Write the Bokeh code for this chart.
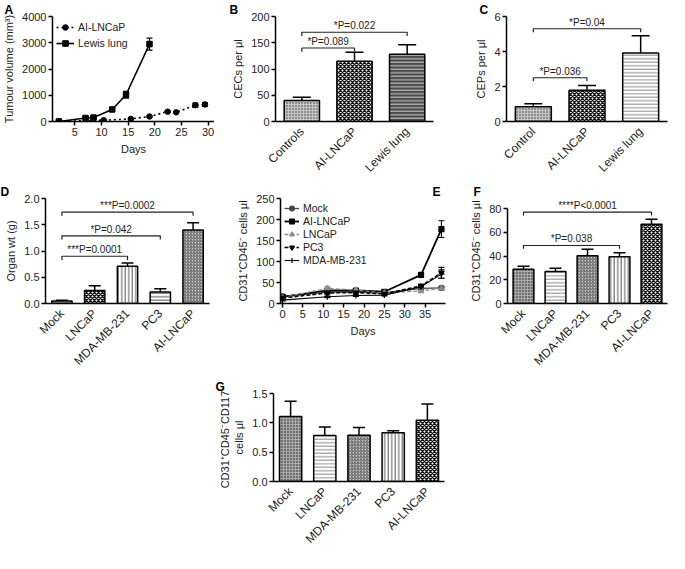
import math
import numpy as np
from bokeh.plotting import figure
from bokeh.models import (Range1d, FixedTicker, Legend, LegendItem, Label,
                          ColumnDataSource, Whisker, TeeHead, Spacer,
                          NumeralTickFormatter)
from bokeh.layouts import row, column
from bokeh.embed import file_html
from bokeh.resources import INLINE

FONT = "Liberation Sans"

# ---------------- data ----------------
# A: tumour volume (mm3)
a_ai_days = [2, 10.4, 15.5, 19, 22.4, 24, 27.6, 29.4]
a_ai_vol = [0, 50, 100, 190, 375, 350, 620, 650]
a_ai_err = [0, 10, 15, 20, 25, 25, 80, 70]
a_ll_days = [2, 7, 8.5, 12, 14.6, 19]
a_ll_vol = [0, 135, 150, 460, 1020, 2950]
a_ll_err = [0, 40, 40, 40, 130, 230]
a_xticks = [5, 10, 15, 20, 25, 30]
a_yticks = [0, 1000, 2000, 3000, 4000]

# B: CECs per ul
b_cats = ["Controls", "AI-LNCaP", "Lewis lung"]
b_vals = [40, 115, 128]
b_errs = [6, 17, 18]
b_yticks = [0, 50, 100, 150, 200]
b_brackets = [(0, 1, 140, "*P=0.089"), (0, 2, 170, "*P=0.022")]

# C: CEPs per ul
c_cats = ["Control", "AI-LNCaP", "Lewis lung"]
c_vals = [0.85, 1.78, 3.92]
c_errs = [0.17, 0.28, 0.98]
c_yticks = [0, 2, 4, 6]
c_brackets = [(0, 1, 2.5, "*P=0.036"), (0, 2, 5.3, "*P=0.04")]

# D: organ weight
d_cats = ["Mock", "LNCaP", "MDA-MB-231", "PC3", "AI-LNCaP"]
d_vals = [0.05, 0.25, 0.71, 0.22, 1.40]
d_errs = [0.01, 0.09, 0.06, 0.06, 0.14]
d_yticks = [0.0, 0.5, 1.0, 1.5, 2.0]
d_brackets = [(0, 2, 0.90, "***P=0.0001"), (0, 3, 1.29, "*P=0.042"),
              (0, 4, 1.74, "***P=0.0002")]

# E: CD31+CD45- cells over time
e_days = [0, 11, 18, 25, 34, 39]
e_mock = [17, 27, 28, 25, 36, 37]
e_mock_err = [2, 2, 2, 2, 3, 4]
e_ai = [16, 31, 31, 28, 68, 177]
e_ai_err = [2, 3, 3, 2, 3, 20]
e_lncap = [14, 36, 32, 25, 30, 36]
e_lncap_err = [2, 5, 3, 2, 4, 3]
e_pc3 = [13, 25, 26, 23, 42, 73]
e_pc3_err = [2, 3, 3, 2, 4, 13]
e_mda = [8, 16, 19, 20, 40, 70]
e_mda_err = [2, 2, 2, 2, 3, 10]
e_xticks = [0, 5, 10, 15, 20, 25, 30, 35]
e_yticks = [0, 50, 100, 150, 200, 250]

# F: CD31+CD45- cells
f_cats = ["Mock", "LNCaP", "MDA-MB-231", "PC3", "AI-LNCaP"]
f_vals = [28.9, 26.9, 40.3, 39.4, 66.7]
f_errs = [2.6, 2.9, 5.4, 3.4, 4.4]
f_yticks = [0, 20, 40, 60, 80]
f_brackets = [(0, 3, 48.9, "*P=0.038"), (0, 4, 77, "****P<0.0001")]

# G: CD31+CD45-CD117- cells
g_cats = ["Mock", "LNCaP", "MDA-MB-231", "PC3", "AI-LNCaP"]
g_vals = [1.11, 0.785, 0.79, 0.83, 1.045]
g_errs = [0.26, 0.145, 0.13, 0.035, 0.275]
g_yticks = [0.0, 0.5, 1.0, 1.5]

# ---------------- styles ----------------
HATCH = {
    "grayfine": dict(fill="#8e8e8e", hatch="+", hcolor="#c4c4c4", hscale=3, hweight=1),
    "darkfine": dict(fill="#707070", hatch="+", hcolor="#a8a8a8", hscale=3, hweight=1),
    "checker": dict(fill="#ffffff", hatch="x", hcolor="#111111", hscale=4, hweight=1.4),
    "hdark": dict(fill="#4a4a4a", hatch="-", hcolor="#d0d0d0", hscale=3.5, hweight=1),
    "hlight": dict(fill="#ffffff", hatch="-", hcolor="#8a8a8a", hscale=3.5, hweight=1),
    "hmid": dict(fill="#ffffff", hatch="-", hcolor="#555555", hscale=3.5, hweight=1),
    "vmid": dict(fill="#ffffff", hatch="|", hcolor="#555555", hscale=3.5, hweight=1),
    "diag": dict(fill="#c8c8c8", hatch="/", hcolor="#555555", hscale=3, hweight=1),
}


def base_fig(w, h, bl, br, bb, xr, yr, letter, letter_dx):
    p = figure(width=w, height=h, x_range=xr, y_range=yr,
               output_backend="svg", toolbar_location=None,
               min_border_left=bl, min_border_right=br,
               min_border_top=0, min_border_bottom=bb)
    p.outline_line_color = None
    p.xgrid.visible = False
    p.ygrid.visible = False
    p.background_fill_color = "white"
    # panel letter as the figure title
    p.title.text = letter
    p.title.align = "left"
    p.title.offset = letter_dx
    p.title.standoff = 0
    p.title.text_font = FONT
    p.title.text_font_size = "12px"
    p.title.text_font_style = "bold"
    p.title.text_color = "black"
    for ax in p.axis:
        ax.axis_line_width = 1.5
        ax.axis_line_color = "black"
        ax.major_tick_line_width = 1.5
        ax.major_tick_line_color = "black"
        ax.major_tick_out = 4
        ax.major_tick_in = 0
        ax.minor_tick_line_color = None
        ax.major_label_text_font = FONT
        ax.major_label_text_font_size = "11px"
        ax.major_label_text_color = "#222222"
        ax.major_label_standoff = 2
        ax.axis_label_text_font = FONT
        ax.axis_label_text_font_size = "11px"
        ax.axis_label_text_font_style = "normal"
        ax.axis_label_text_color = "#222222"
        ax.axis_label_standoff = 4
    return p


def bar_panel(w, h, bl, br, bb, letter, letter_dx, cats, vals, errs, styles,
              yticks, ylabel, bar_w, cap, brackets, leg, fmt=None, ytop=None):
    n = len(cats)
    xs = [i + 0.5 for i in range(n)]
    top = ytop if ytop is not None else yticks[-1]
    p = base_fig(w, h, bl, br, bb, Range1d(0, n), Range1d(0, top),
                 letter, letter_dx)
    st = [HATCH[s] for s in styles]
    src = ColumnDataSource(dict(
        x=xs, top=vals,
        fill=[s["fill"] for s in st], hatch=[s["hatch"] for s in st],
        hcolor=[s["hcolor"] for s in st], hscale=[s["hscale"] for s in st],
        hweight=[s["hweight"] for s in st]))
    p.vbar(x="x", top="top", width=bar_w, source=src, fill_color="fill",
           hatch_pattern="hatch", hatch_color="hcolor", hatch_scale="hscale",
           hatch_weight="hweight", line_color="black", line_width=1.5)
    esrc = ColumnDataSource(dict(x=xs, lower=vals,
                                 upper=[v + e for v, e in zip(vals, errs)]))
    p.add_layout(Whisker(base="x", lower="lower", upper="upper", source=esrc,
                         dimension="height", line_width=1.5, line_color="black",
                         upper_head=TeeHead(size=cap, line_width=1.5, line_color="black"),
                         lower_head=None))
    for (i, j, yh, txt) in brackets:
        p.line(x=[xs[i], xs[i], xs[j], xs[j]], y=[yh - leg, yh, yh, yh - leg],
               line_color="#222222", line_width=1.2)
        p.add_layout(Label(x=(xs[i] + xs[j]) / 2, y=yh, text=txt,
                           text_align="center", text_baseline="bottom",
                           y_offset=1, text_font=FONT, text_font_size="10px",
                           text_color="#222222"))
    p.xaxis.ticker = FixedTicker(ticks=xs)
    p.xaxis.major_label_overrides = {x: c for x, c in zip(xs, cats)}
    p.xaxis.major_label_orientation = math.pi / 4
    p.xaxis.major_tick_line_color = None
    p.xaxis.major_label_text_font_size = "12px"
    p.xaxis.major_label_standoff = 4
    p.yaxis.ticker = FixedTicker(ticks=yticks)
    p.yaxis.bounds = (yticks[0], yticks[-1])
    p.yaxis.axis_label = ylabel
    if fmt:
        p.yaxis.formatter = NumeralTickFormatter(format=fmt)
    return p


# ================= Row 1 (height 182) =================
# Panel A
pa = base_fig(214, 182, 48, 0, 60, Range1d(0.8, 31.2), Range1d(0, 4000), "A", -48)
pa.xaxis.ticker = FixedTicker(ticks=a_xticks)
pa.yaxis.ticker = FixedTicker(ticks=a_yticks)
pa.xaxis.axis_label = "Days"
pa.yaxis.axis_label = "Tumour volume (mm\u00b3)"
ai_src = ColumnDataSource(dict(x=a_ai_days, y=a_ai_vol,
                               lo=[v - e for v, e in zip(a_ai_vol, a_ai_err)],
                               hi=[v + e for v, e in zip(a_ai_vol, a_ai_err)]))
ll_src = ColumnDataSource(dict(x=a_ll_days, y=a_ll_vol,
                               lo=[v - e for v, e in zip(a_ll_vol, a_ll_err)],
                               hi=[v + e for v, e in zip(a_ll_vol, a_ll_err)]))
for s in (ai_src, ll_src):
    pa.add_layout(Whisker(base="x", lower="lo", upper="hi", source=s,
                          line_width=1.2, line_color="black",
                          upper_head=TeeHead(size=6, line_width=1.2),
                          lower_head=TeeHead(size=6, line_width=1.2)))
l1 = pa.line("x", "y", source=ai_src, line_color="black", line_width=1.6,
             line_dash="2 3")
m1 = pa.scatter("x", "y", source=ai_src, marker="circle", size=5.5,
                color="black")
l2 = pa.line("x", "y", source=ll_src, line_color="black", line_width=1.6)
m2 = pa.scatter("x", "y", source=ll_src, marker="square", size=5.5,
                color="black")
lega = Legend(items=[LegendItem(label="AI-LNCaP", renderers=[l1, m1]),
                     LegendItem(label="Lewis lung", renderers=[l2, m2])],
              location="top_left", border_line_color=None,
              background_fill_alpha=0, label_text_font=FONT,
              label_text_font_size="10.5px", label_height=14, glyph_height=14,
              glyph_width=18, spacing=2, padding=0, margin=4,
              label_standoff=4, label_text_color="#222222")
pa.add_layout(lega)

# Panel B
pb = bar_panel(230, 182, 61, 11, 60, "B", -46, b_cats, b_vals, b_errs,
               ["grayfine", "checker", "hdark"], b_yticks, "CECs per \u03bcl",
               0.67, 18, b_brackets, 7)

# Panel C
pc = bar_panel(225, 182, 62, 2, 60, "C", -27, c_cats, c_vals, c_errs,
               ["grayfine", "checker", "hlight"], c_yticks, "CEPs per \u03bcl",
               0.67, 18, c_brackets, 0.2)

# ================= Row 2 (height 195) =================
# Panel D
pd = bar_panel(214, 195, 45, 5, 74, "D", -45, d_cats, d_vals, d_errs,
               ["grayfine", "checker", "vmid", "hmid", "diag"], d_yticks,
               "Organ wt (g)", 0.62, 12, d_brackets, 0.07, fmt="0.0")

# Panel E
pe = base_fig(233, 195, 66, 2, 71, Range1d(-0.5, 40), Range1d(0, 250), "E", 152)
pe.xaxis.ticker = FixedTicker(ticks=e_xticks)
pe.yaxis.ticker = FixedTicker(ticks=e_yticks)
pe.xaxis.axis_label = "Days"
pe.yaxis.axis_label = "CD31\u207aCD45\u207b cells \u03bcl"
e_specs = [
    ("Mock", e_mock, e_mock_err, "#444444", "solid", 1.3, "circle", 5),
    ("AI-LNCaP", e_ai, e_ai_err, "#000000", "solid", 1.8, "square", 5),
    ("LNCaP", e_lncap, e_lncap_err, "#8c8c8c", "4 2", 1.3, "triangle", 5.5),
    ("PC3", e_pc3, e_pc3_err, "#000000", "4 2", 1.5, "inverted_triangle", 5.5),
    ("MDA-MB-231", e_mda, e_mda_err, "#000000", "solid", 1.1, "cross", 6),
]
e_items = []
for name, vals, errs, col, dash, lw, mk, ms in e_specs:
    s = ColumnDataSource(dict(x=e_days, y=vals,
                              lo=[v - e for v, e in zip(vals, errs)],
                              hi=[v + e for v, e in zip(vals, errs)]))
    pe.add_layout(Whisker(base="x", lower="lo", upper="hi", source=s,
                          line_width=1.1, line_color=col,
                          upper_head=TeeHead(size=6, line_width=1.1, line_color=col),
                          lower_head=TeeHead(size=6, line_width=1.1, line_color=col)))
    lr = pe.line("x", "y", source=s, line_color=col, line_width=lw, line_dash=dash)
    mr = pe.scatter("x", "y", source=s, marker=mk, size=ms, color=col,
                    line_width=1.2)
    e_items.append(LegendItem(label=name, renderers=[lr, mr]))
lege = Legend(items=e_items, location="top_left", border_line_color=None,
              background_fill_alpha=0, label_text_font=FONT,
              label_text_font_size="10.5px", label_height=12, glyph_height=12,
              glyph_width=15, spacing=1, padding=0, margin=4,
              label_standoff=4, label_text_color="#222222")
pe.add_layout(lege)

# Panel F
pf = bar_panel(222, 195, 60, 2, 72, "F", -34, f_cats, f_vals, f_errs,
               ["darkfine", "hlight", "diag", "vmid", "checker"], f_yticks,
               "CD31\u207aCD45\u207b cells \u03bcl", 0.65, 12, f_brackets, 2.8,
               ytop=88.5)

# ================= Row 3 (height 176) =================
pg = bar_panel(260, 176, 73, 16, 54, "G", -58, g_cats, g_vals, g_errs,
               ["darkfine", "hlight", "diag", "vmid", "checker"], g_yticks,
               "CD31\u207aCD45\u207bCD117\u207b\ncells \u03bcl", 0.65, 12, [], 0,
               fmt="0.0")

layout = column(row(pa, pb, pc), row(pd, pe, pf),
                row(Spacer(width=200, height=176), pg))

open("out.html", "w").write(file_html(layout, INLINE))
